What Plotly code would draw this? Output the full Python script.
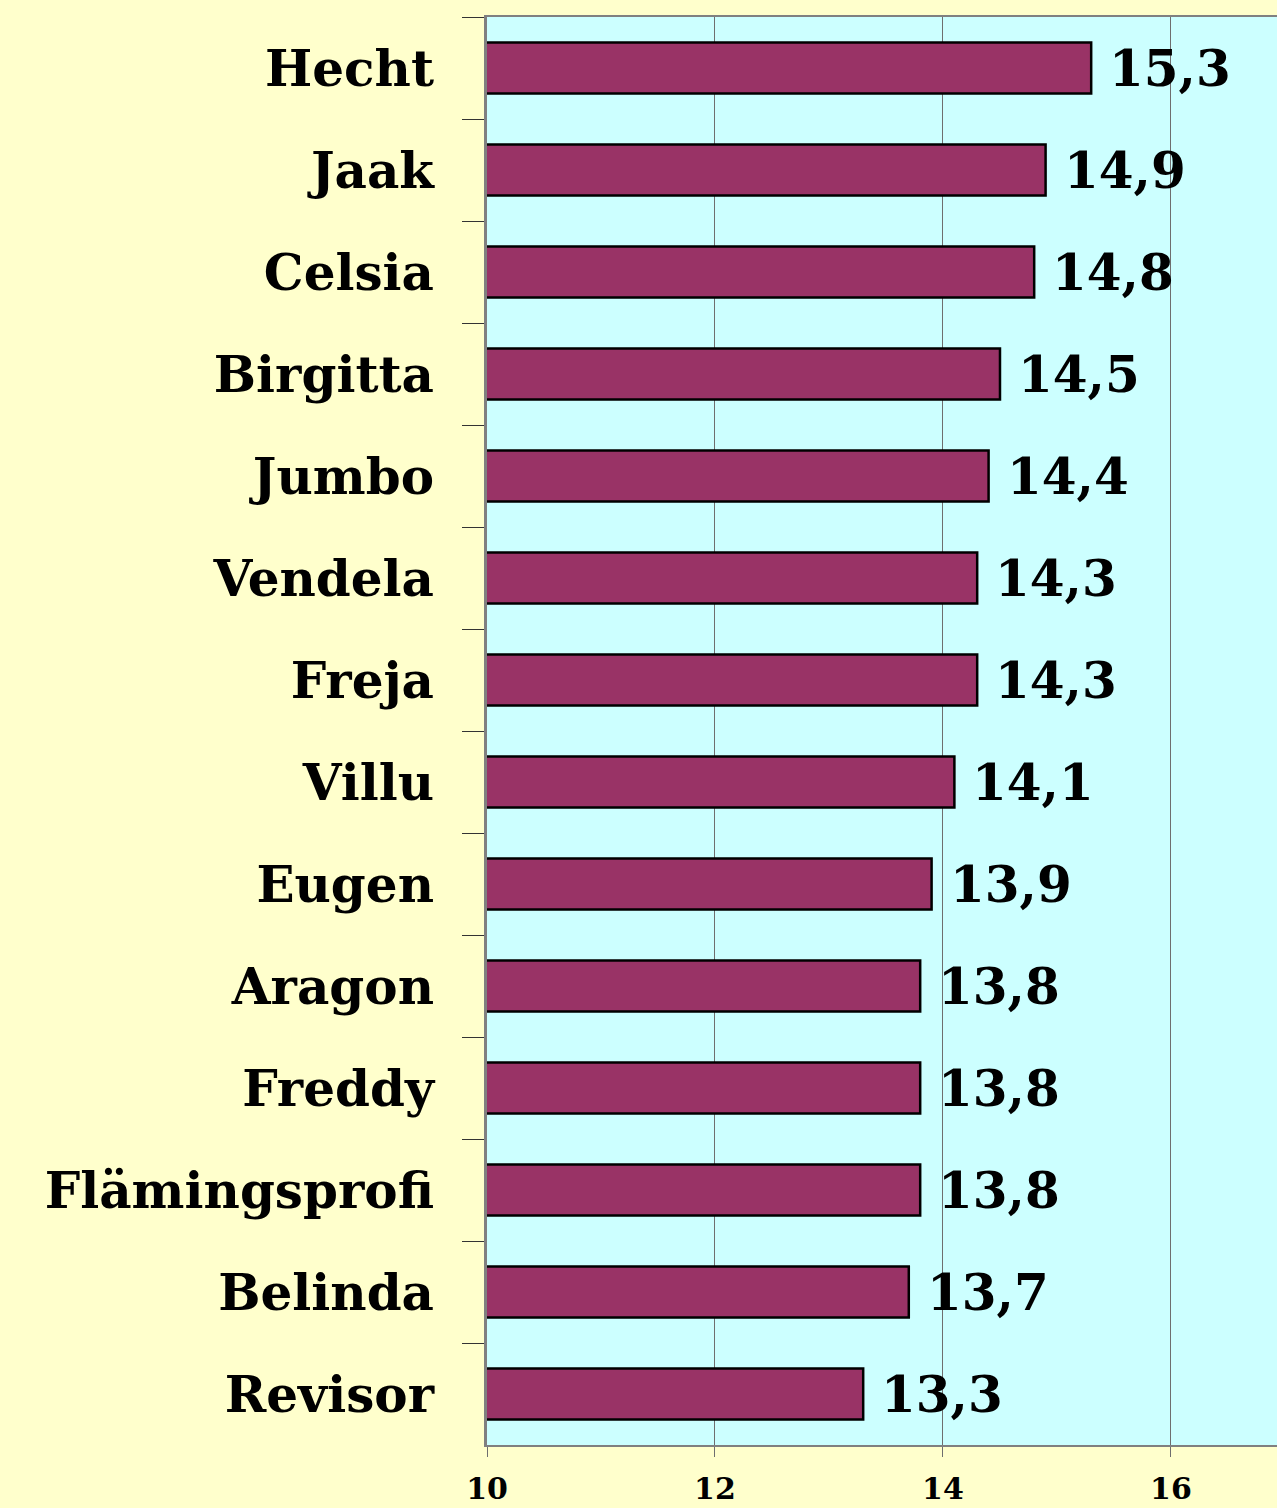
"""Sortenvergleich – horizontal bar chart, Excel-style colours."""
import plotly.graph_objects as go

# ── Data ─────────────────────────────────────────────────────────────────────
sorten = [
    "Hecht", "Jaak", "Celsia", "Birgitta", "Jumbo", "Vendela", "Freja",
    "Villu", "Eugen", "Aragon", "Freddy", "Flämingsprofi", "Belinda", "Revisor",
]
werte = [15.3, 14.9, 14.8, 14.5, 14.4, 14.3, 14.3, 14.1, 13.9, 13.8, 13.8, 13.8, 13.7, 13.3]
x_ticks = [10, 12, 14, 16]

# ── Design tokens ────────────────────────────────────────────────────────────
_PAPER = "#FFFFCC"
_PLOT = "#CCFFFF"
_BAR = "#993366"
_AXIS = "#808080"
_GRID = "#6E6E6E"
_FONT = "DejaVu Serif"

fig = go.Figure(
    go.Bar(
        x=werte,
        y=sorten,
        orientation="h",
        base=0,
        marker=dict(color=_BAR, line=dict(color="black", width=2.5)),
        hoverinfo="skip",
    )
)

# value labels right of each bar
for s, v in zip(sorten, werte):
    fig.add_annotation(
        x=v, y=s, xref="x", yref="y",
        text=f"{v:.1f}".replace(".", ","),
        showarrow=False, xanchor="left", yanchor="middle",
        xshift=16,
        font=dict(family=_FONT, size=50, color="black", weight="bold"),
    )

fig.update_layout(
    width=1277,
    height=1508,
    paper_bgcolor=_PAPER,
    plot_bgcolor=_PLOT,
    showlegend=False,
    bargap=0.5,
    margin=dict(l=487, r=0, t=17, b=63),
    xaxis=dict(
        range=[10, 16.93],
        tickvals=x_ticks,
        ticktext=[str(t) for t in x_ticks],
        showgrid=True,
        gridcolor=_GRID,
        gridwidth=1,
        zeroline=False,
        showline=True,
        linecolor=_AXIS,
        linewidth=2,
        mirror=True,
        ticks="outside",
        ticklen=10,
        tickcolor=_GRID,
        ticklabelstandoff=6,
        automargin=False,
        tickfont=dict(family=_FONT, size=30, color="black", weight="bold"),
    ),
    yaxis=dict(
        autorange="reversed",
        showgrid=False,
        zeroline=False,
        showline=True,
        linecolor=_AXIS,
        linewidth=3,
        ticks="outside",
        tickson="boundaries",
        ticklen=22,
        tickcolor="#333333",
        ticklabelstandoff=40,
        automargin=False,
        tickfont=dict(family=_FONT, size=50, color="black", weight="bold"),
    ),
)

# page body margin off so the chart sits flush in the window
fig.write_html(
    "out.html",
    config={"displayModeBar": False},
    post_script="document.body.style.margin='0';",
)
